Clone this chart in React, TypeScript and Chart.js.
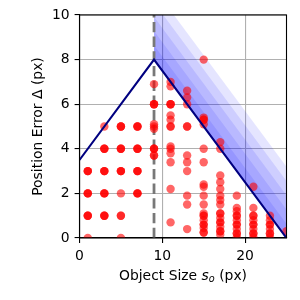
import { useEffect, useRef } from "react";
import { Chart, registerables } from "chart.js";

Chart.register(...registerables);

// ---- data ----
const objectSizes = [1, 3, 5, 7, 9, 11, 13, 15, 17, 19, 21, 23, 25];
const errorsBySize: number[][] = [
  [3, 3, 3, 2, 2, 2, 1, 1, 1, 0],
  [5, 4, 4, 4, 3, 3, 3, 2, 2, 2, 1, 1, 1],
  [5, 5, 5, 4, 4, 4, 3, 3, 3, 2, 1, 1, 0],
  [5, 5, 5, 4, 4, 4, 3, 3, 3, 2, 2, 2],
  [6.9, 6.0, 6.0, 6.0, 5.1, 5.0, 4.9, 4.0, 4.0, 4.0, 3.7, 3.7],
  [7.0, 6.8, 6.0, 6.0, 6.0, 5.5, 5.3, 5.0, 5.0, 4.1, 4.0, 3.8, 3.4, 2.2, 0.7],
  [6.6, 6.3, 6.0, 5.0, 5.0, 3.7, 3.4, 3.0, 1.9, 1.5, 0.4],
  [8.0, 5.4, 5.3, 5.3, 5.1, 4.0, 3.4, 2.4, 2.3, 1.9, 1.5, 1.1, 1.0, 1.0, 0.8, 0.6, 0.6, 0.45, 0.25, 0.25],
  [4.3, 4.0, 2.8, 2.5, 2.2, 1.9, 1.7, 1.5, 1.1, 1.1, 0.9, 0.7, 0.7, 0.5, 0.3, 0.3, 0.15],
  [1.9, 1.35, 1.2, 1.0, 1.0, 0.8, 0.6, 0.6, 0.4, 0.2, 0.2, 0.05],
  [2.3, 1.35, 1.0, 1.0, 0.8, 0.6, 0.6, 0.4, 0.2, 0.2, 0.05],
  [1.0, 0.8, 0.6, 0.6, 0.4, 0.2, 0.2, 0.05],
  [0.3],
];
const boundSizes = [0, 9, 25];
const boundErrors = [3.5, 8, 0];
const thresholdSize = 9;
const bandOffsets = [0.64, 1.28, 1.92, 2.56, 3.2];
const xTicks = [0, 10, 20];
const yTicks = [0, 2, 4, 6, 8, 10];
const xTitleParts = ["Object Size ", "s", "o", " (px)"];
const yTitle = "Position Error Δ (px)";

const FONT = '"DejaVu Sans"';
const FS = 13.9;

const framePlugin = {
  id: "frame",
  afterDatasetsDraw(chart: any) {
    const { ctx, chartArea: a } = chart;
    ctx.save();
    ctx.strokeStyle = "#000";
    ctx.lineWidth = 1.1;
    ctx.strokeRect(a.left, a.top, a.right - a.left, a.bottom - a.top);
    ctx.restore();
  },
};

const titlePlugin = {
  id: "axisTitles",
  afterDraw(chart: any) {
    const { ctx, chartArea: a } = chart;
    ctx.save();
    ctx.fillStyle = "#000";
    ctx.textBaseline = "alphabetic";
    ctx.textAlign = "left";
    const fonts = [
      `${FS}px ${FONT}`,
      `oblique ${FS}px ${FONT}`,
      `oblique ${FS * 0.7}px ${FONT}`,
      `${FS}px ${FONT}`,
    ];
    const shifts = [0, 0, FS * 0.2, 0];
    let total = 0;
    const widths = xTitleParts.map((t, i) => {
      ctx.font = fonts[i];
      const w = ctx.measureText(t).width;
      total += w;
      return w;
    });
    let x = (a.left + a.right) / 2 - total / 2;
    const baseY = 279.5;
    xTitleParts.forEach((t, i) => {
      ctx.font = fonts[i];
      ctx.fillText(t, x, baseY + shifts[i]);
      x += widths[i];
    });
    ctx.font = `${FS}px ${FONT}`;
    ctx.translate(41.7, (a.top + a.bottom) / 2);
    ctx.rotate(-Math.PI / 2);
    ctx.textAlign = "center";
    ctx.fillText(yTitle, 0, 0);
    ctx.restore();
  },
};

export default function App() {
  const ref = useRef<HTMLCanvasElement | null>(null);
  useEffect(() => {
    if (!ref.current) return;
    const points = objectSizes.flatMap((s, i) =>
      errorsBySize[i].map((e) => ({ x: s, y: e }))
    );
    const boundLine = boundSizes.map((s, i) => ({ x: s, y: boundErrors[i] }));
    const rightBound = boundLine.slice(1);
    const bandDatasets = bandOffsets.map((off) => ({
      type: "line" as const,
      data: rightBound.map((p) => ({ x: p.x, y: p.y + off })),
      borderWidth: 0,
      borderColor: "rgba(0,0,0,0)",
      backgroundColor: "rgba(0,0,255,0.1)",
      pointRadius: 0,
      pointHoverRadius: 0,
      fill: 3,
      order: 4,
    }));
    const tickFont = { family: FONT, size: FS };
    const chart = new Chart(ref.current, {
      type: "scatter",
      data: {
        datasets: [
          {
            type: "line",
            data: boundLine,
            borderColor: "#000080",
            borderWidth: 2.08,
            pointRadius: 0,
            pointHoverRadius: 0,
            fill: false,
            order: 0,
          } as any,
          {
            type: "scatter",
            data: points,
            backgroundColor: "rgba(255,0,0,0.6)",
            borderWidth: 0,
            pointRadius: 4.2,
            order: 1,
          },
          {
            type: "line",
            data: [
              { x: thresholdSize, y: yTicks[0] },
              { x: thresholdSize, y: yTicks[yTicks.length - 1] },
            ],
            borderColor: "rgb(120,120,120)",
            borderWidth: 2.78,
            borderDash: [10.3, 4.4],
            pointRadius: 0,
            pointHoverRadius: 0,
            fill: false,
            order: 2,
          },
          {
            type: "line",
            data: rightBound,
            borderWidth: 0,
            borderColor: "rgba(0,0,0,0)",
            pointRadius: 0,
            pointHoverRadius: 0,
            fill: false,
            order: 3,
          },
          ...bandDatasets,
        ] as any,
      },
      options: {
        animation: false,
        responsive: false,
        events: [],
        layout: { padding: { left: 0, right: 13.5, top: 15, bottom: 0 } },
        plugins: {
          legend: { display: false },
          tooltip: { enabled: false },
        },
        scales: {
          x: {
            type: "linear",
            min: 0,
            max: 25,
            afterBuildTicks: (s: any) => {
              s.ticks = xTicks.map((v) => ({ value: v }));
            },
            afterFit: (s: any) => {
              s.height = 62;
            },
            grid: {
              color: "#b0b0b0",
              lineWidth: 1.1,
              tickColor: "#000",
              tickLength: 4.9,
              tickWidth: 1.1,
            },
            border: { display: true, color: "#000", width: 1.1 },
            ticks: { color: "#000", font: tickFont, padding: 4.9, maxRotation: 0 },
          },
          y: {
            type: "linear",
            min: 0,
            max: 10,
            afterBuildTicks: (s: any) => {
              s.ticks = yTicks.map((v) => ({ value: v }));
            },
            afterFit: (s: any) => {
              s.width = 79.5;
            },
            grid: {
              color: "#b0b0b0",
              lineWidth: 1.1,
              tickColor: "#000",
              tickLength: 4.9,
              tickWidth: 1.1,
            },
            border: { display: true, color: "#000", width: 1.1 },
            ticks: { color: "#000", font: tickFont, padding: 4.9 },
          },
        },
      } as any,
      plugins: [framePlugin, titlePlugin],
    });
    return () => chart.destroy();
  }, []);
  return (
    <div style={{ position: "absolute", left: 0, top: 0, width: 300, height: 300 }}>
      <canvas ref={ref} width={300} height={300} style={{ width: 300, height: 300 }} />
    </div>
  );
}
